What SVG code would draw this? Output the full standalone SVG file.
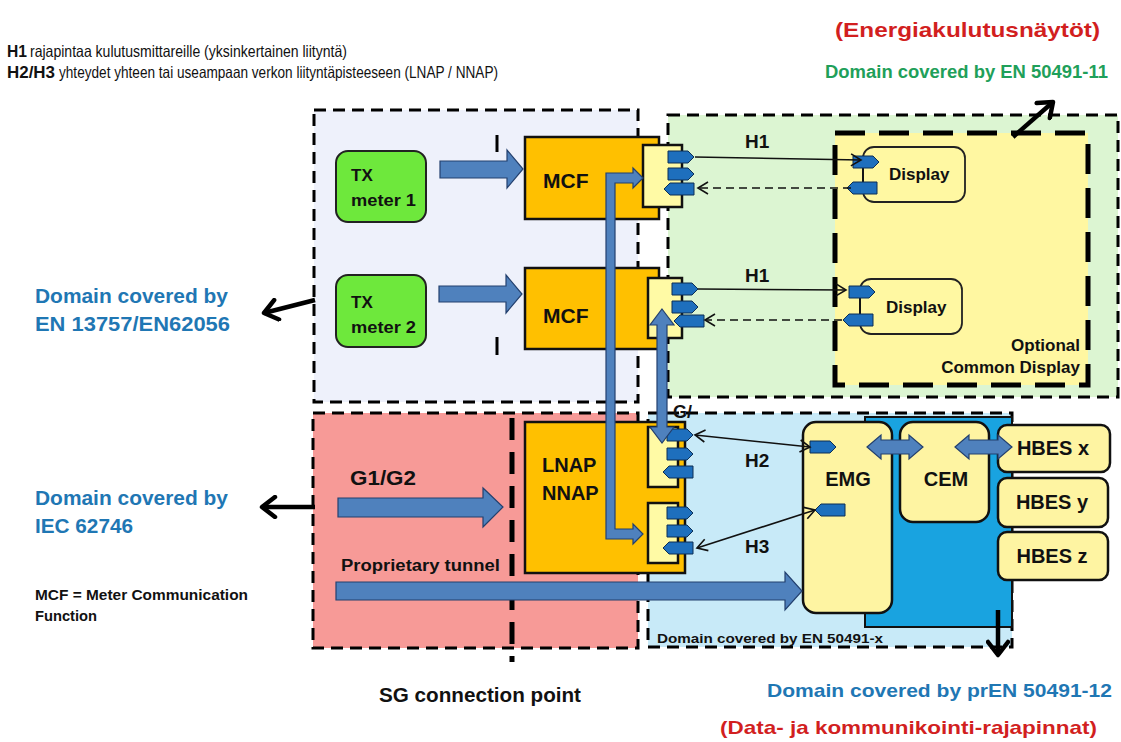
<svg xmlns="http://www.w3.org/2000/svg" width="1121" height="742" viewBox="0 0 1121 742">
<style>
.t{font-family:"Liberation Sans",Arial,sans-serif;font-weight:bold;fill:#111}
.n{font-family:"Liberation Sans",Arial,sans-serif;font-weight:normal;fill:#111}
.dom{stroke:#000;stroke-width:3;stroke-dasharray:12 7}
.orange{fill:#ffc000;stroke:#111;stroke-width:2.5}
.pbox{fill:#fffaa5;stroke:#111;stroke-width:2.5}
.port{fill:#1e6fbd;stroke:#0d2f55;stroke-width:1}
.blk{fill:#4f81bd;stroke:#23406e;stroke-width:1.2}
.yel{fill:#fef4a2;stroke:#111;stroke-width:2.5}
.disp{fill:#fff8a2;stroke:#222;stroke-width:1.8}
.h{stroke:#111;stroke-width:1.6;fill:none}
.ptr{stroke:#000;stroke-width:4.5;fill:none}
</style>
<defs>
<marker id="ah" viewBox="-12 -7 14 14" refX="0" refY="0" markerWidth="14" markerHeight="14" markerUnits="userSpaceOnUse" orient="auto-start-reverse">
<path d="M-10,-6 L0,0 L-10,6" fill="none" stroke="#111" stroke-width="1.6"/>
</marker>
<marker id="bh" viewBox="-16 -12 20 24" refX="0" refY="0" markerWidth="20" markerHeight="24" markerUnits="userSpaceOnUse" orient="auto">
<path d="M-13,-10 L0,0 L-13,10" fill="none" stroke="#000" stroke-width="4.5" stroke-linecap="round" stroke-linejoin="round"/>
</marker>
<path id="pr" d="M0,-6 H20 L26,0 L20,6 H0 Z"/>
<path id="pl" d="M0,0 L6,-6 H30 V6 H6 Z"/>
</defs>
<rect width="1121" height="742" fill="#fff"/>

<g id="domains">
<rect x="314" y="110" width="324" height="292" fill="#eef1fb" class="dom"/>
<rect x="668" y="115" width="450" height="282" fill="#dcf5d2" class="dom"/>
<rect x="835" y="133" width="253" height="252" fill="#fff7a1" stroke="#000" stroke-width="5" stroke-dasharray="30 14"/>
<rect x="313" y="413" width="325" height="235" fill="#f79a97" class="dom"/>
<rect x="648" y="413" width="364" height="234" fill="#c8eaf8" class="dom"/>
<rect x="865" y="417" width="147" height="210" fill="#19a3e0" stroke="#111" stroke-width="2"/>
<line x1="497" y1="135" x2="497" y2="152" stroke="#000" stroke-width="3"/>
<line x1="497" y1="337" x2="497" y2="355" stroke="#000" stroke-width="3"/>
<line x1="512" y1="418" x2="512" y2="662" stroke="#000" stroke-width="5" stroke-dasharray="22 12"/>
</g>

<g id="labels">
<text class="t" x="7" y="57" font-size="16.5" textLength="20" lengthAdjust="spacingAndGlyphs">H1</text>
<text class="n" x="30" y="57" font-size="16.5" textLength="317" lengthAdjust="spacingAndGlyphs">rajapintaa kulutusmittareille (yksinkertainen liityntä)</text>
<text class="t" x="7" y="78" font-size="16.5" textLength="48" lengthAdjust="spacingAndGlyphs">H2/H3</text>
<text class="n" x="59" y="78" font-size="16.5" textLength="439" lengthAdjust="spacingAndGlyphs">yhteydet yhteen tai useampaan verkon liityntäpisteeseen (LNAP / NNAP)</text>
<text class="t" x="835" y="37" font-size="21" textLength="265" lengthAdjust="spacingAndGlyphs" style="fill:#d21f1f">(Energiakulutusnäytöt)</text>
<text class="t" x="825" y="78" font-size="18" textLength="283" lengthAdjust="spacingAndGlyphs" style="fill:#1fa05a">Domain covered by EN 50491-11</text>
<text class="t" x="35" y="303" font-size="20" textLength="193" lengthAdjust="spacingAndGlyphs" style="fill:#1f77b4">Domain covered by</text>
<text class="t" x="35" y="331" font-size="20" textLength="195" lengthAdjust="spacingAndGlyphs" style="fill:#1f77b4">EN 13757/EN62056</text>
<text class="t" x="35" y="505" font-size="20" textLength="193" lengthAdjust="spacingAndGlyphs" style="fill:#1f77b4">Domain covered by</text>
<text class="t" x="35" y="533" font-size="20" textLength="98" lengthAdjust="spacingAndGlyphs" style="fill:#1f77b4">IEC 62746</text>
<text class="t" x="35" y="600" font-size="14" textLength="213" lengthAdjust="spacingAndGlyphs">MCF = Meter Communication</text>
<text class="t" x="35" y="621" font-size="14" textLength="62" lengthAdjust="spacingAndGlyphs">Function</text>
<text class="t" x="379" y="702" font-size="20" textLength="202" lengthAdjust="spacingAndGlyphs">SG connection point</text>
<text class="t" x="767" y="697" font-size="19" textLength="345" lengthAdjust="spacingAndGlyphs" style="fill:#1f77b4">Domain covered by prEN 50491-12</text>
<text class="t" x="720" y="734" font-size="19" textLength="377" lengthAdjust="spacingAndGlyphs" style="fill:#d21f1f">(Data- ja kommunikointi-rajapinnat)</text>
<text class="t" x="657" y="643" font-size="13" textLength="226" lengthAdjust="spacingAndGlyphs">Domain covered by EN 50491-x</text>
<text class="t" x="1080" y="351" font-size="17" text-anchor="end">Optional</text>
<text class="t" x="1080" y="373" font-size="17" text-anchor="end">Common Display</text>
<text class="t" x="350" y="485" font-size="20" textLength="66" lengthAdjust="spacingAndGlyphs">G1/G2</text>
<text class="t" x="341" y="571" font-size="16" textLength="159" lengthAdjust="spacingAndGlyphs">Proprietary tunnel</text>
<text class="t" x="673" y="418" font-size="18">G/</text>
<text class="t" x="745" y="148" font-size="19">H1</text>
<text class="t" x="745" y="282" font-size="19">H1</text>
<text class="t" x="745" y="467" font-size="19">H2</text>
<text class="t" x="745" y="553" font-size="19">H3</text>
</g>

<g id="tx1"><rect x="336" y="151" width="90" height="71" rx="12" fill="#6ee83c" stroke="#222" stroke-width="2"/><text class="t" x="351" y="181" font-size="17">TX</text><text class="t" x="351" y="206" font-size="16" textLength="65" lengthAdjust="spacingAndGlyphs">meter 1</text></g>
<g id="tx2"><rect x="336" y="275" width="90" height="72" rx="12" fill="#6ee83c" stroke="#222" stroke-width="2"/><text class="t" x="351" y="308" font-size="17">TX</text><text class="t" x="351" y="333" font-size="16" textLength="65" lengthAdjust="spacingAndGlyphs">meter 2</text></g>
<g id="mcf1"><rect x="525" y="137" width="134" height="82" class="orange"/><text class="t" x="543" y="188" font-size="21">MCF</text>
<rect x="643" y="145" width="39" height="62" class="pbox"/>
<use href="#pr" x="668" y="157" class="port"/><use href="#pr" x="668" y="174" class="port"/><use href="#pl" x="664" y="189" class="port"/></g>
<g id="mcf2"><rect x="525" y="268" width="134" height="81" class="orange"/><text class="t" x="543" y="323" font-size="21">MCF</text>
<rect x="648" y="278" width="34" height="60" class="pbox"/>
<use href="#pr" x="672" y="289" class="port"/><use href="#pr" x="672" y="307" class="port"/><use href="#pl" x="674" y="321" class="port"/></g>
<g id="lnap"><rect x="525" y="422" width="160" height="151" class="orange"/><text class="t" x="542" y="472" font-size="20">LNAP</text><text class="t" x="542" y="500" font-size="20">NNAP</text>
<rect x="648" y="427" width="30" height="60" class="pbox"/><rect x="648" y="503" width="30" height="60" class="pbox"/>
<use href="#pr" x="667" y="435" class="port"/><use href="#pr" x="667" y="454" class="port"/><use href="#pl" x="663" y="472" class="port"/>
<use href="#pr" x="667" y="513" class="port"/><use href="#pr" x="667" y="531" class="port"/><use href="#pl" x="663" y="548" class="port"/></g>
<g id="display1"><rect x="863" y="147" width="102" height="55" rx="11" class="disp"/><text class="t" x="889" y="180" font-size="17">Display</text>
<line x1="863" y1="162" x2="863" y2="188" stroke="#111" stroke-width="1.8"/>
<use href="#pr" x="853" y="162" class="port"/><use href="#pl" x="847" y="188" class="port"/></g>
<g id="display2"><rect x="860" y="279" width="102" height="55" rx="11" class="disp"/><text class="t" x="886" y="313" font-size="17">Display</text>
<line x1="860" y1="292" x2="860" y2="320" stroke="#111" stroke-width="1.8"/>
<use href="#pr" x="849" y="292" class="port"/><use href="#pl" x="843" y="320" class="port"/></g>
<g id="emg"><rect x="803" y="422" width="89" height="191" rx="13" class="yel"/><text class="t" x="848" y="486" font-size="20" text-anchor="middle">EMG</text>
<use href="#pr" x="810" y="447" class="port"/><use href="#pl" x="815" y="510" class="port"/></g>
<g id="cem"><rect x="900" y="422" width="89" height="100" rx="13" class="yel"/><text class="t" x="946" y="486" font-size="20" text-anchor="middle">CEM</text></g>
<g id="hbesx"><rect x="998" y="425" width="112" height="47" rx="9" class="yel"/><text class="t" x="1053" y="455" font-size="20" text-anchor="middle">HBES x</text></g>
<g id="hbesy"><rect x="998" y="478" width="110" height="49" rx="9" class="yel"/><text class="t" x="1052" y="509" font-size="20" text-anchor="middle">HBES y</text></g>
<g id="hbesz"><rect x="998" y="532" width="110" height="48" rx="9" class="yel"/><text class="t" x="1052" y="563" font-size="20" text-anchor="middle">HBES z</text></g>

<g id="connectors">
<path class="blk" d="M440,161 H507 V150 L523,169 L507,188 V178 H440 Z"/>
<path class="blk" d="M439,286 H506 V275 L522,294 L506,313 V302 H439 Z"/>
<path class="blk" d="M338,498 H483 V488 L503,507 L483,527 V517 H338 Z"/>
<path class="blk" d="M336,582 H785 V572 L802,591 L785,610 V600 H336 Z"/>
<path class="blk" d="M643,178 L633,168 V173 H606 V539 H633 V544 L643,534 L633,524 V529 H615 V183 H633 V188 Z"/>
<path class="blk" d="M662,309 L674,325 H667 V427 H674 L662,443 L650,427 H657 V325 H650 Z"/>
<path class="blk" d="M867,447 L881,435 V440 H909 V435 L923,447 L909,459 V454 H881 V459 Z"/>
<path class="blk" d="M955,447 L969,435 V440 H998 V435 L1012,447 L998,459 V454 H969 V459 Z"/>
<line class="h" x1="695" y1="157" x2="861" y2="160" marker-end="url(#ah)"/>
<line class="h" x1="851" y1="188" x2="698" y2="188" stroke-dasharray="8 5" marker-end="url(#ah)"/>
<line class="h" x1="698" y1="289" x2="846" y2="290" marker-end="url(#ah)"/>
<line class="h" x1="842" y1="320" x2="705" y2="320" stroke-dasharray="8 5" marker-end="url(#ah)"/>
<line class="h" x1="695" y1="435" x2="810" y2="447" marker-start="url(#ah)" marker-end="url(#ah)"/>
<line class="h" x1="697" y1="548" x2="815" y2="510" marker-start="url(#ah)" marker-end="url(#ah)"/>
<line class="ptr" x1="1013" y1="137" x2="1053" y2="102" marker-end="url(#bh)"/>
<line class="ptr" x1="315" y1="300" x2="264" y2="313" marker-end="url(#bh)"/>
<line class="ptr" x1="315" y1="507" x2="262" y2="507" marker-end="url(#bh)"/>
<line class="ptr" x1="998" y1="610" x2="998" y2="655" marker-end="url(#bh)"/>
</g>
</svg>
